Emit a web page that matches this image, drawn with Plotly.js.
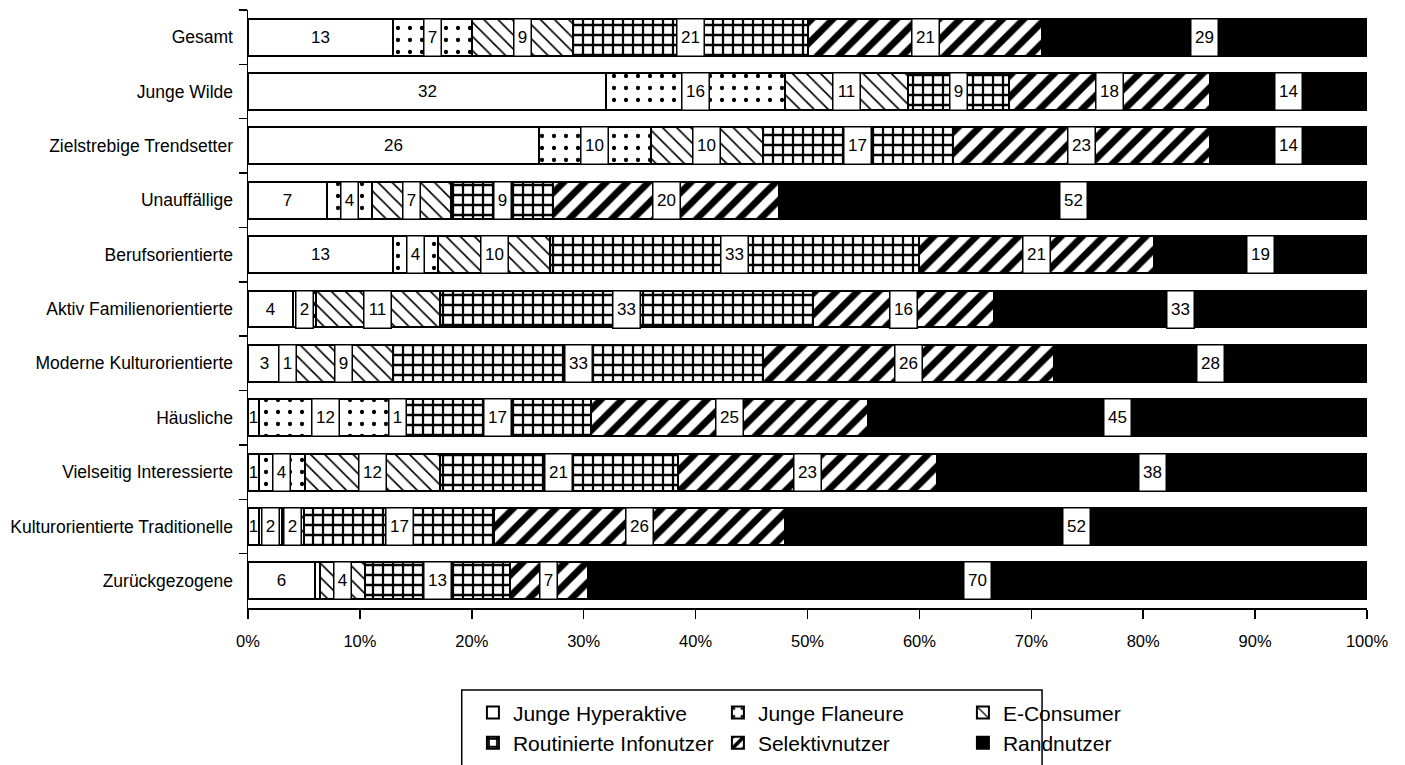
<!DOCTYPE html>
<html>
<head>
<meta charset="utf-8">
<script src="https://cdn.plot.ly/plotly-3.0.1.min.js"></script>
<style>html,body{margin:0;padding:0;background:#fff;}#chart{width:1405px;height:765px;}</style>
</head>
<body>
<div id="chart"></div>
<script>
const categories = ["Gesamt","Junge Wilde","Zielstrebige Trendsetter","Unauffällige","Berufsorientierte","Aktiv Familienorientierte","Moderne Kulturorientierte","Häusliche","Vielseitig Interessierte","Kulturorientierte Traditionelle","Zurückgezogene"];
const seriesNames = ["Junge Hyperaktive","Junge Flaneure","E-Consumer","Routinierte Infonutzer","Selektivnutzer","Randnutzer"];
const jungeHyperaktive = [13,32,26,7,13,4,3,1,1,1,6];
const jungeFlaneure    = [7,16,10,4,4,2,1,12,4,2,0.5];
const eConsumer        = [9,11,10,7,10,11,9,1,12,2,4];
const routinierte      = [21,9,17,9,33,33,33,17,21,17,13];
const selektivnutzer   = [21,18,23,20,21,16,26,25,23,26,7];
const randnutzer       = [29,14,14,52,19,33,28,45,38,52,70];
const xTickVals = [0,10,20,30,40,50,60,70,80,90,100];
const xTickText = ["0%","10%","20%","30%","40%","50%","60%","70%","80%","90%","100%"];

const seriesValues = [jungeHyperaktive,jungeFlaneure,eConsumer,routinierte,selektivnutzer,randnutzer];
const font = '"Liberation Sans", Arial, sans-serif';
const styles = [
  {pattern:{shape:''}, color:'#ffffff', group:'a'},
  {pattern:{shape:'.', fgcolor:'#000', bgcolor:'#fff', size:12, solidity:0.1, fillmode:'replace'}, color:'#ffffff', group:'b'},
  {pattern:{shape:'\\', fgcolor:'#000', bgcolor:'#fff', size:10, solidity:0.16, fillmode:'replace'}, color:'#ffffff', group:'c'},
  {pattern:{shape:'+', fgcolor:'#000', bgcolor:'#fff', size:10, solidity:0.4, fillmode:'replace'}, color:'#ffffff', group:'a'},
  {pattern:{shape:'/', fgcolor:'#000', bgcolor:'#fff', size:15, solidity:0.45, fillmode:'replace'}, color:'#ffffff', group:'b'},
  {pattern:{shape:''}, color:'#000000', group:'c'}
];

const traces = seriesNames.map((name, i) => ({
  type:'bar', orientation:'h', name:name,
  x: seriesValues[i], y: categories,
  legendgroup: styles[i].group,
  marker:{color: styles[i].color, pattern: styles[i].pattern, line:{color:'#000', width:2}},
  hoverinfo:'x+y+name'
}));

const annotations = [];
categories.forEach((cat, r) => {
  const total = seriesValues.reduce((s, vals) => s + vals[r], 0);
  let cum = 0;
  seriesValues.forEach((vals, si) => {
    const v = vals[r];
    if (v >= 1) {
      const txt = String(v);
      const plain = si === 0;
      annotations.push({x: (cum + v/2) / total * 100, y: cat, xref:'x', yref:'y', text: txt, showarrow:false,
        font:{family:font, size:17, color:'#000'},
        bgcolor: plain ? 'rgba(0,0,0,0)' : '#fff',
        bordercolor: plain ? 'rgba(0,0,0,0)' : '#000', borderwidth:1.5,
        borderpad:1, height:34, width: 10 * txt.length + 4});
    }
    cum += v;
  });
});

const layout = {
  width:1405, height:765,
  margin:{l:248, r:38, t:10, b:157},
  paper_bgcolor:'#fff', plot_bgcolor:'#fff',
  barmode:'stack', barnorm:'percent', bargap:0.32,
  font:{family:font, size:15, color:'#000'},
  showlegend:true,
  legend:{orientation:'h', traceorder:'grouped', x:0.201, y:0.095, yref:'container', xanchor:'left', yanchor:'top',
    font:{family:font, size:21, color:'#000'}, tracegroupgap:0, entrywidth:200, itemwidth:30, bgcolor:'rgba(0,0,0,0)'},
  xaxis:{range:[0,100], tickmode:'array', tickvals:xTickVals, ticktext:xTickText, showgrid:false, zeroline:false,
    showline:true, linecolor:'#000', linewidth:1.5, ticks:'outside', ticklen:9, tickcolor:'#000', tickwidth:1.5,
    tickfont:{family:font, size:16.5}, ticklabelstandoff:9, automargin:false, fixedrange:true},
  yaxis:{type:'category', autorange:'reversed', showgrid:false, zeroline:false,
    showline:true, linecolor:'#000', linewidth:1.5, ticks:'outside', ticklen:8, tickcolor:'#000', tickwidth:1.5,
    tickson:'boundaries', tickfont:{family:font, size:17.5}, ticklabelstandoff:10, automargin:false, fixedrange:true},
  annotations: annotations,
  shapes:[{type:'rect', xref:'paper', yref:'paper', x0:0.191, x1:0.7096, y0:-0.137, y1:-0.35,
    line:{color:'#000', width:1.5}, fillcolor:'rgba(0,0,0,0)'}]
};

Plotly.newPlot('chart', traces, layout, {displayModeBar:false, staticPlot:true});
</script>
</body>
</html>
